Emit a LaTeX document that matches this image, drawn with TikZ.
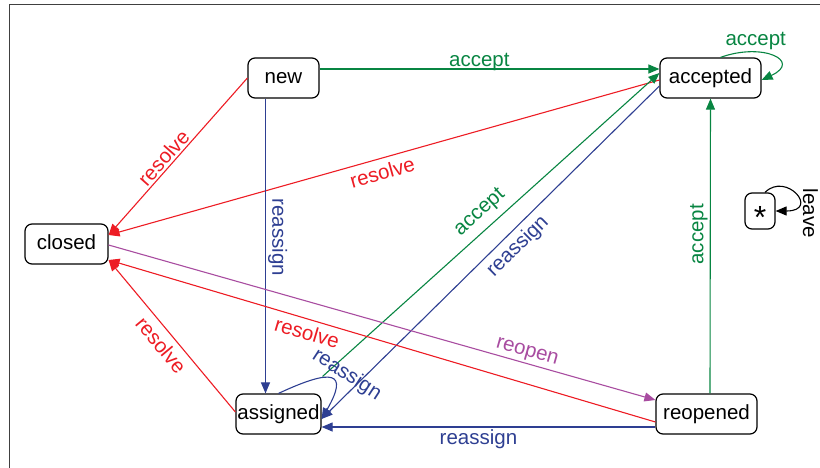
\documentclass[tikz,border=0pt]{standalone}
\usepackage{fontspec}
\setmainfont{Liberation Sans}
\usepackage{xcolor}
\usetikzlibrary{arrows.meta}

\definecolor{acceptgreen}{RGB}{8,133,66}
\definecolor{resolvered}{RGB}{237,28,36}
\definecolor{reassignblue}{RGB}{46,63,146}
\definecolor{reopenpurple}{RGB}{168,76,160}

\begin{document}
\begin{tikzpicture}[x=1pt, y=1pt, every node/.style={font=\fontsize{20.5}{24}\selectfont, inner sep=2pt}]
    % Styles
    \tikzstyle{state} = [rectangle, rounded corners=7pt, draw=black, line width=1.2pt, fill=white, minimum height=40pt, inner sep=0pt, text height=15pt, text depth=4pt]
    \tikzstyle{edge} = [line width=1.1pt, -{Triangle[length=11pt, width=9pt]}]

    \useasboundingbox (0,0) rectangle (820,-468);
    \draw[line width=1.5pt, black!75] (9.5,-468) -- (9.5,-4.5) -- (820,-4.5);

    % States
    \node[state, minimum width=71pt] (new) at (283.5,-78) {new};
    \node[state, minimum width=101pt] (accepted) at (710.5,-78) {accepted};
    \node[state, minimum width=83pt] (closed) at (66.5,-244) {closed};
    \node[state, minimum width=85pt] (assigned) at (278.5,-414) {assigned};
    \node[state, minimum width=101pt] (reopened) at (706.5,-414) {reopened};
    \node[state, minimum width=30pt, minimum height=36pt, text height=0pt, text depth=0pt] (any) at (760,-211) {\fontsize{32}{32}\selectfont\raisebox{-18pt}[0pt][0pt]{*}};

    % Transitions
    \draw[edge, acceptgreen] ([yshift=9pt]new.east) -- node[pos=0.47, anchor=base, yshift=2pt] {accept} ([yshift=9pt]accepted.west);
    \draw[edge, acceptgreen] ([xshift=10pt]accepted.north) to[out=20, in=25, out distance=45pt, in distance=45pt] node[pos=0.3, above] {accept} ([yshift=-2pt]accepted.east);
    \draw[edge, resolvered] (new.west) -- node[above, sloped, pos=0.55] {resolve} ([yshift=9pt]closed.east);
    \draw[edge, resolvered] ([yshift=-2pt]accepted.west) -- node[below=4pt, sloped, pos=0.51] {resolve} ([yshift=9pt]closed.east);
    \draw[edge, reassignblue] ([xshift=-18pt]new.south) -- node[pos=0.47, rotate=-90, anchor=south] {reassign} ([xshift=-13pt]assigned.north);
    \draw[edge, acceptgreen] ([shift={(1pt,17pt)}]assigned.north east) -- node[above=5pt, sloped, pos=0.5] {accept} ([yshift=5pt]accepted.west);
    \draw[edge, reassignblue] ([yshift=-8pt]accepted.west) -- node[below=3pt, sloped, pos=0.45] {reassign} ([yshift=-5pt]assigned.east);
    \draw[edge, reassignblue] (assigned.north) to[out=25, in=60, out distance=60pt, in distance=55pt] node[pos=0.5, xshift=16pt, yshift=4pt, rotate=-33] {reassign} ([yshift=-5pt]assigned.east);
    \draw[edge, resolvered] ([yshift=2pt]assigned.west) -- node[below=4pt, sloped, pos=0.5] {resolve} ([yshift=-16pt]closed.east);
    \draw[edge, resolvered] ([yshift=-8pt]reopened.west) -- node[below=3pt, sloped, pos=0.63] {resolve} ([yshift=-16pt]closed.east);
    \draw[edge, reopenpurple] ([yshift=-1pt]closed.east) -- node[above, sloped, pos=0.76] {reopen} ([yshift=14pt]reopened.west);
    \draw[edge, reassignblue] ([yshift=-13pt]reopened.west) -- node[below, pos=0.53] {reassign} ([yshift=-13pt]assigned.east);
    \draw[edge, acceptgreen] ([xshift=3.5pt]reopened.north) -- node[pos=0.54, rotate=90, anchor=south] {accept} (accepted.south);
    \draw[edge, black] ([xshift=5pt]any.north) to[out=45, in=0, out distance=30pt, in distance=45pt] node[pos=0.6, xshift=3pt, yshift=-15pt, rotate=-90, anchor=south] {leave} (any.east);
\end{tikzpicture}
\end{document}
